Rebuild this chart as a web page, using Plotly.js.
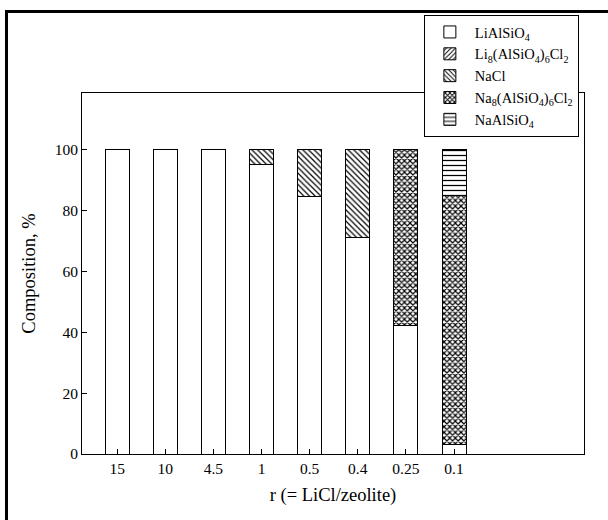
<!DOCTYPE html>
<html>
<head>
<meta charset="utf-8">
<script src="https://cdn.plot.ly/plotly-3.0.1.min.js"></script>
<style>
html,body{margin:0;padding:0;background:#fff;}
#wrap{position:relative;width:608px;height:520px;}
#chart{position:absolute;left:0;top:0;width:608px;height:520px;}
#frameTop{position:absolute;left:5px;top:10px;width:603px;height:3px;background:#000;pointer-events:none;}
#frameLeft{position:absolute;left:5px;top:10px;width:3px;height:510px;background:#000;pointer-events:none;}
</style>
</head>
<body>
<div id="wrap">
<div id="chart"></div>
<div id="frameTop"></div>
<div id="frameLeft"></div>
</div>
<script>
const categories = ['15', '10', '4.5', '1', '0.5', '0.4', '0.25', '0.1'];
const liAlSiO4 = [100, 100, 100, 95.3, 84.6, 71.3, 42.1, 3.2];
const li8Cl2   = [null, null, null, null, null, null, null, null];
const naCl     = [null, null, null, 4.7, 15.4, 28.7, null, null];
const na8Cl2   = [null, null, null, null, null, null, 57.9, 81.7];
const naAlSiO4 = [null, null, null, null, null, null, null, 15.1];
const yTicks = [0, 20, 40, 60, 80, 100];

const line = {color: '#000', width: 1};
function bar(name, y, shape, size, solidity) {
  const marker = {color: '#fff', line: line};
  if (shape) marker.pattern = {shape: shape, fgcolor: '#000', bgcolor: '#fff', size: size, solidity: solidity};
  return {type: 'bar', name: name, x: categories, y: y, marker: marker, hoverinfo: 'skip'};
}
const traces = [
  bar('LiAlSiO<sub>4</sub>', liAlSiO4, '', 0, 0),
  bar('Li<sub>8</sub>(AlSiO<sub>4</sub>)<sub>6</sub>Cl<sub>2</sub>', li8Cl2, '/', 4, 0.3),
  bar('NaCl', naCl, '\\', 4, 0.3),
  bar('Na<sub>8</sub>(AlSiO<sub>4</sub>)<sub>6</sub>Cl<sub>2</sub>', na8Cl2, 'x', 4, 0.5),
  bar('NaAlSiO<sub>4</sub>', naAlSiO4, '-', 5, 0.25)
];
const font = {family: 'Liberation Serif, Times New Roman, serif', color: '#000'};
const layout = {
  width: 608, height: 520,
  margin: {l: 82, r: 24, t: 93, b: 66},
  paper_bgcolor: '#fff', plot_bgcolor: '#fff',
  barmode: 'stack', bargap: 0.5,
  font: Object.assign({size: 15}, font),
  showlegend: true,
  legend: {
    x: 0.681, y: 1.216, xanchor: 'left', yanchor: 'top',
    bgcolor: '#fff', bordercolor: '#000', borderwidth: 1,
    font: Object.assign({size: 14.5}, font),
    traceorder: 'normal', tracegroupgap: 0,
    itemwidth: 40
  },
  xaxis: {
    type: 'category', range: [-0.73, 9.7],
    showline: true, linecolor: '#000', linewidth: 1, mirror: true,
    ticks: 'inside', ticklen: 5, tickcolor: '#000',
    showgrid: false, zeroline: false,
    tickfont: Object.assign({size: 15.5}, font),
    title: {text: 'r (= LiCl/zeolite)', font: Object.assign({size: 18.5}, font), standoff: 12}
  },
  yaxis: {
    range: [0, 118.7],
    tickvals: yTicks, ticktext: yTicks.map(String),
    showline: true, linecolor: '#000', linewidth: 1, mirror: true,
    ticks: 'inside', ticklen: 5, tickcolor: '#000',
    showgrid: false, zeroline: false,
    tickfont: Object.assign({size: 15.5}, font),
    title: {text: 'Composition, %', font: Object.assign({size: 18.5}, font), standoff: 14}
  }
};
Plotly.newPlot('chart', traces, layout, {displayModeBar: false, staticPlot: true});
</script>
</body>
</html>
